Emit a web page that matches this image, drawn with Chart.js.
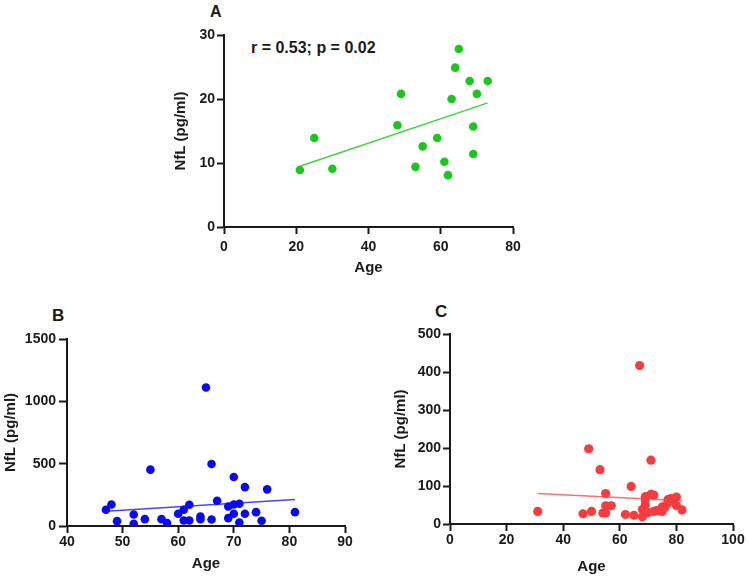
<!DOCTYPE html>
<html>
<head>
<meta charset="utf-8">
<script src="https://cdn.jsdelivr.net/npm/chart.js@4.4.0/dist/chart.umd.min.js"></script>
<style>
  body { margin: 0; background: #fff; width: 748px; height: 578px; position: relative; overflow: hidden; }
  canvas { position: absolute; }
  .lbl { position: absolute; font-family: "Liberation Sans", Arial, sans-serif; font-weight: bold; color: #1a1a1a; line-height: 1; white-space: nowrap; }
</style>
</head>
<body>
<div class="lbl" style="left:210px; top:4px; font-size:16px;">A</div>
<div class="lbl" style="left:251px; top:40px; font-size:16px;">r = 0.53; p = 0.02</div>
<div class="lbl" style="left:52px; top:307px; font-size:17px;">B</div>
<div class="lbl" style="left:435px; top:303px; font-size:17px;">C</div>
<canvas id="chartA" width="380" height="290" style="left:150px; top:0px;"></canvas>
<canvas id="chartB" width="360" height="278" style="left:0px; top:300px;"></canvas>
<canvas id="chartC" width="368" height="278" style="left:380px; top:300px;"></canvas>
<script>
// Panel A
const ageA = [21, 25, 30, 48, 49, 53, 55, 59, 61, 62, 63, 64, 65, 68, 69, 69, 70, 73];
const nflA = [8.9, 13.9, 9.1, 15.9, 20.8, 9.4, 12.6, 13.9, 10.2, 8.1, 20.0, 24.9, 27.8, 22.8, 15.7, 11.4, 20.8, 22.8];
const fitA = [{ x: 21, y: 9.5 }, { x: 73, y: 19.4 }];

// Panel B
const ageB = [47, 48, 49, 52, 52, 54, 55, 57, 58, 60, 61, 61, 62, 62, 64, 64, 65, 66, 66, 67, 69, 69, 70, 70, 70, 71, 71, 72, 72, 74, 75, 76, 81];
const nflB = [130, 173, 39, 92, 18, 55, 452, 55, 23, 98, 130, 44, 170, 44, 76, 55, 1111, 497, 52, 203, 157, 63, 393, 173, 98, 179, 28, 312, 98, 111, 42, 294, 111];
const fitB = [{ x: 47, y: 118 }, { x: 81, y: 212 }];

// Panel C
const ageC = [31, 47, 49, 50, 53, 54, 55, 55, 55, 57, 62, 64, 65, 67, 68, 68, 69, 69, 69, 70, 71, 71, 72, 72, 73, 75, 75, 76, 77, 77, 78, 79, 80, 80, 82];
const nflC = [33, 27, 198, 33, 143, 29, 29, 80, 48, 48, 25, 99, 23, 417, 19, 38, 50, 63, 72, 30, 168, 78, 76, 33, 35, 33, 45, 45, 55, 64, 67, 60, 71, 49, 37];
const fitC = [{ x: 31, y: 80 }, { x: 82, y: 61 }];

const FONT = '"Liberation Sans", Arial, sans-serif';
const INK = '#1a1a1a';

function pairs(xs, ys) {
  return xs.map((x, i) => ({ x, y: ys[i] }));
}

function drawPanel(id, cfg) {
  const tickFont = { family: FONT, size: 14, weight: 'bold' };
  const titleFont = { family: FONT, size: 15, weight: 'bold' };
  new Chart(document.getElementById(id), {
    type: 'scatter',
    data: {
      datasets: [
        { data: pairs(cfg.ages, cfg.nfl), backgroundColor: cfg.color, borderWidth: 0, pointRadius: cfg.r, pointHoverRadius: cfg.r },
        { data: cfg.fit, showLine: true, borderColor: cfg.lineColor, borderWidth: 1.5, pointRadius: 0, fill: false }
      ]
    },
    options: {
      responsive: false,
      animation: false,
      events: [],
      layout: { padding: { top: cfg.padTop, right: cfg.padRight, left: 0, bottom: 0 } },
      plugins: { legend: { display: false }, tooltip: { enabled: false } },
      scales: {
        x: {
          type: 'linear', min: cfg.xMin, max: cfg.xMax,
          ticks: { stepSize: cfg.xStep, font: tickFont, color: INK, padding: cfg.xPad, maxRotation: 0, callback: v => String(v) },
          grid: { drawOnChartArea: false, tickLength: 7, tickColor: INK, tickWidth: 2 },
          border: { color: INK, width: 2 },
          title: { display: true, text: 'Age', font: titleFont, color: INK, padding: { top: 0, bottom: cfg.xTitlePad } },
          afterFit: s => { s.height = cfg.xH; }
        },
        y: {
          type: 'linear', min: cfg.yMin, max: cfg.yMax,
          ticks: { stepSize: cfg.yStep, font: tickFont, color: INK, padding: cfg.yPad, callback: v => String(v) },
          grid: { drawOnChartArea: false, tickLength: cfg.yTick, tickColor: INK, tickWidth: 2 },
          border: { color: INK, width: 2 },
          title: { display: true, text: 'NfL (pg/ml)', font: titleFont, color: INK, padding: { top: cfg.yTitlePad, bottom: 0 } },
          afterFit: s => { s.width = cfg.yW; }
        }
      }
    }
  });
}

drawPanel('chartA', {
  ages: ageA, nfl: nflA, fit: fitA, color: '#1fc51f', lineColor: '#3fd43f', r: 4.3,
  xMin: 0, xMax: 80, xStep: 20, yMin: 0, yMax: 30, yStep: 10,
  padTop: 35, padRight: 17, yW: 74, xH: 63, xPad: 5, yPad: 2, yTick: 7,
  yTitlePad: 22, xTitlePad: 13
});

drawPanel('chartB', {
  ages: ageB, nfl: nflB, fit: fitB, color: '#0a0af0', lineColor: '#4646ff', r: 4.3,
  xMin: 40, xMax: 90, xStep: 10, yMin: 0, yMax: 1500, yStep: 500,
  padTop: 39, padRight: 15, yW: 67, xH: 52, xPad: 1, yPad: 3, yTick: 8,
  yTitlePad: 1.5, xTitlePad: 5.5
});

drawPanel('chartC', {
  ages: ageC, nfl: nflC, fit: fitC, color: '#f43c41', lineColor: '#ff6e6e', r: 4.6,
  xMin: 0, xMax: 100, xStep: 20, yMin: 0, yMax: 500, yStep: 100,
  padTop: 34, padRight: 15, yW: 70, xH: 54, xPad: 1, yPad: 2, yTick: 7,
  yTitlePad: 11.5, xTitlePad: 2.3
});
</script>
</body>
</html>
